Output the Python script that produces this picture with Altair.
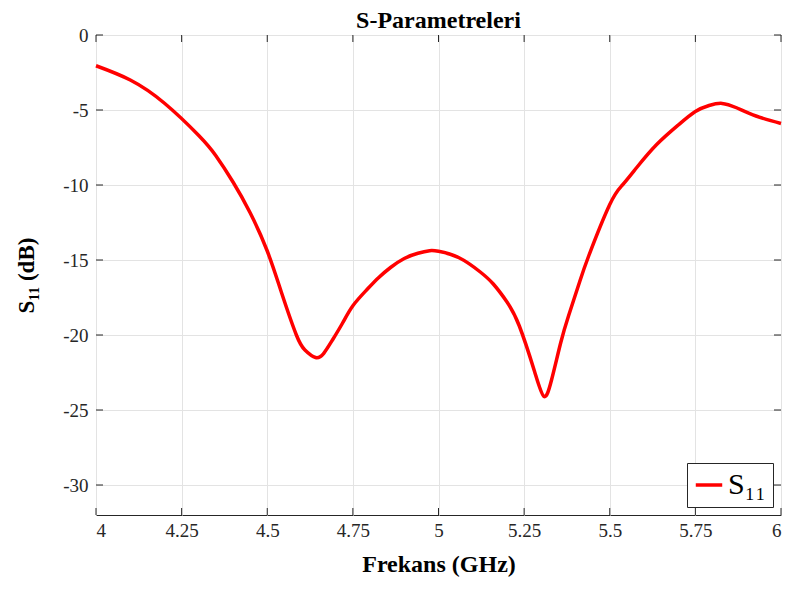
import altair as alt
import pandas as pd

freq = [4.0, 4.1, 4.2, 4.3, 4.35, 4.4, 4.45, 4.5, 4.542, 4.585,
        4.61, 4.641, 4.665, 4.69, 4.72, 4.75, 4.79, 4.824, 4.86, 4.9,
        4.94, 4.974, 5.0, 5.06, 5.122, 5.16, 5.2, 5.236, 5.28, 5.308,
        5.33, 5.357, 5.38, 5.41, 5.439, 5.5, 5.537, 5.58, 5.637, 5.7,
        5.75, 5.79, 5.828, 5.87, 5.927, 6.0]
s11 = [-2.05, -3.0, -4.55, -6.7, -8.05, -9.8, -11.85, -14.4, -17.2, -20.0,
       -21.0, -21.5, -21.22, -20.35, -19.2, -18.05, -17.0, -16.2, -15.5, -14.9,
       -14.55, -14.38, -14.42, -14.85, -15.8, -16.6, -17.8, -19.4, -22.4, -24.1,
       -23.0, -20.5, -18.7, -16.6, -14.7, -11.3, -10.0, -8.8, -7.3, -6.0,
       -5.1, -4.7, -4.56, -4.85, -5.4, -5.9]
series_name = "S\u2081\u2081"

x_ticks = [4, 4.25, 4.5, 4.75, 5, 5.25, 5.5, 5.75, 6]
y_ticks = [-30, -25, -20, -15, -10, -5, 0]

FONT = "Liberation Serif"
W, H = 685, 480
TL = 7

df = pd.DataFrame({"f": freq, "s": s11, "name": [series_name] * len(freq)})
xt = pd.DataFrame({"v": x_ticks})
yt = pd.DataFrame({"v": y_ticks})

xscale = alt.Scale(domain=[4, 6], nice=False, zero=False)
yscale = alt.Scale(domain=[-32, 0], nice=False, zero=False)

line = alt.Chart(df).mark_line(strokeWidth=3.5, interpolate="natural").encode(
    x=alt.X("f:Q", scale=xscale,
            axis=alt.Axis(values=x_ticks, labelExpr="'' + datum.value",
                          title="Frekans (GHz)", grid=True, ticks=False,
                          labelPadding=6, titlePadding=12, titleFontSize=24)),
    y=alt.Y("s:Q", scale=yscale,
            axis=alt.Axis(values=y_ticks, labelExpr="'' + datum.value",
                          title=series_name + " (dB)", grid=True, ticks=False,
                          labelPadding=8, titlePadding=24)),
    color=alt.Color("name:N", scale=alt.Scale(domain=[series_name], range=["#ff0000"]),
                    legend=alt.Legend(title=None, orient="bottom-right", offset=8,
                                      symbolType="stroke", symbolStrokeWidth=3.5,
                                      symbolSize=700, labelFontSize=30, labelFont=FONT,
                                      strokeColor="#262626", fillColor="white",
                                      padding=7, labelColor="#000000")),
)

bx = alt.Chart(xt).mark_rule(color="#262626").encode(
    x=alt.X("v:Q", scale=xscale), y=alt.value(H), y2=alt.value(H - TL))
tx = alt.Chart(xt).mark_rule(color="#262626").encode(
    x=alt.X("v:Q", scale=xscale), y=alt.value(0), y2=alt.value(TL))
ly = alt.Chart(yt).mark_rule(color="#262626").encode(
    y=alt.Y("v:Q", scale=yscale), x=alt.value(0), x2=alt.value(TL))
ry = alt.Chart(yt).mark_rule(color="#262626").encode(
    y=alt.Y("v:Q", scale=yscale), x=alt.value(W), x2=alt.value(W - TL))

chart = alt.layer(line, bx, tx, ly, ry).properties(
    width=W, height=H,
    title=alt.TitleParams("S-Parametreleri", font=FONT, fontSize=24, fontWeight="bold",
                          color="#000000", anchor="middle", offset=-7),
    autosize=alt.AutoSizeParams(type="none"),
    padding={"left": 88, "top": 27, "right": 4, "bottom": 62},
    background="white",
).configure_view(stroke="#262626", strokeWidth=1).configure_axis(
    labelFont=FONT, labelFontSize=19, labelColor="#262626",
    titleFont=FONT, titleFontSize=23, titleFontWeight="bold", titleColor="#000000",
    domain=False, gridColor="#e3e3e3", gridWidth=1,
)

chart.save("out.html", embed_options={"renderer": "svg", "actions": False})
